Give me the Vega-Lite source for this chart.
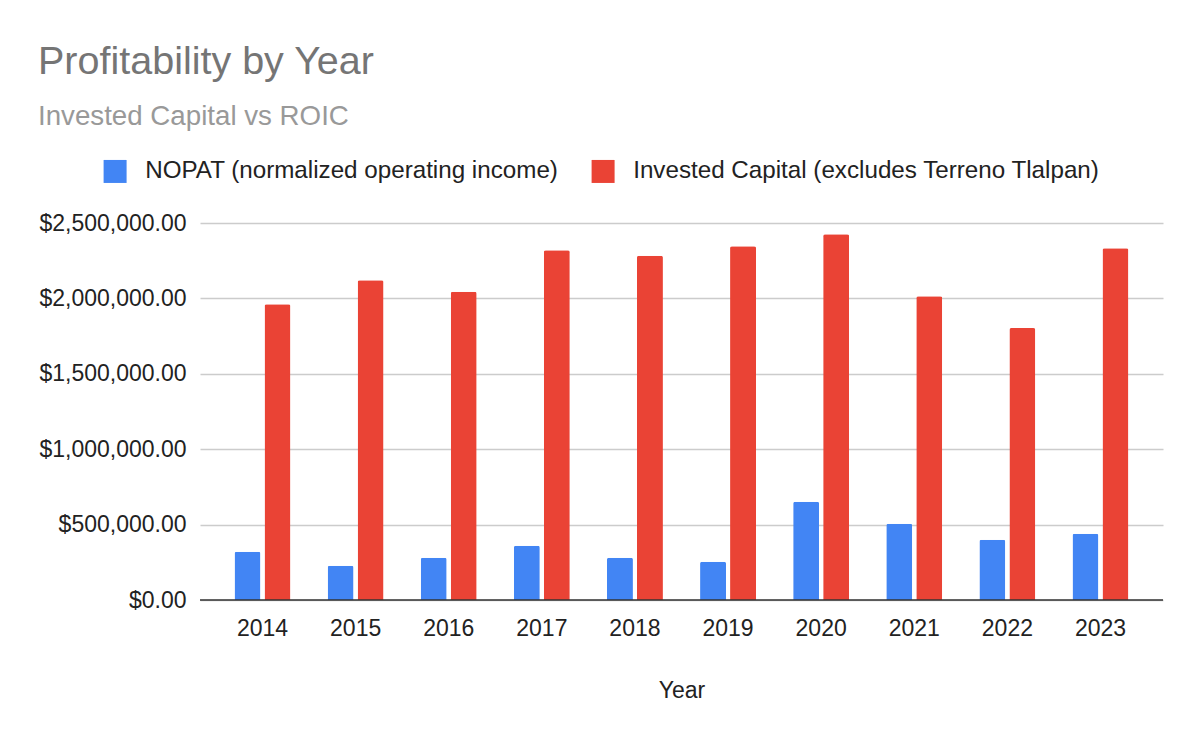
{
  "$schema": "https://vega.github.io/schema/vega-lite/v6.json",
  "autosize": {"type": "none"},
  "padding": {"left": 200, "top": 223, "right": 37, "bottom": 142},
  "width": 963,
  "height": 377,
  "background": "white",
  "view": {"stroke": null},
  "title": {
    "text": "Profitability by Year",
    "subtitle": "Invested Capital vs ROIC",
    "anchor": "start",
    "frame": "group",
    "dx": -162,
    "offset": 27,
    "font": "Liberation Sans",
    "fontSize": 39.5,
    "fontWeight": "normal",
    "color": "#757575",
    "subtitleFont": "Liberation Sans",
    "subtitleFontSize": 27.7,
    "subtitleColor": "#999999",
    "subtitlePadding": 21
  },
  "data": {
    "values": [
      {"Year": "2014", "Series": "NOPAT (normalized operating income)", "Value": 320000},
      {"Year": "2015", "Series": "NOPAT (normalized operating income)", "Value": 227000},
      {"Year": "2016", "Series": "NOPAT (normalized operating income)", "Value": 280000},
      {"Year": "2017", "Series": "NOPAT (normalized operating income)", "Value": 360000},
      {"Year": "2018", "Series": "NOPAT (normalized operating income)", "Value": 280000},
      {"Year": "2019", "Series": "NOPAT (normalized operating income)", "Value": 254000},
      {"Year": "2020", "Series": "NOPAT (normalized operating income)", "Value": 651000},
      {"Year": "2021", "Series": "NOPAT (normalized operating income)", "Value": 505000},
      {"Year": "2022", "Series": "NOPAT (normalized operating income)", "Value": 399000},
      {"Year": "2023", "Series": "NOPAT (normalized operating income)", "Value": 439000},
      {"Year": "2014", "Series": "Invested Capital (excludes Terreno Tlalpan)", "Value": 1962000},
      {"Year": "2015", "Series": "Invested Capital (excludes Terreno Tlalpan)", "Value": 2121000},
      {"Year": "2016", "Series": "Invested Capital (excludes Terreno Tlalpan)", "Value": 2044000},
      {"Year": "2017", "Series": "Invested Capital (excludes Terreno Tlalpan)", "Value": 2320000},
      {"Year": "2018", "Series": "Invested Capital (excludes Terreno Tlalpan)", "Value": 2282000},
      {"Year": "2019", "Series": "Invested Capital (excludes Terreno Tlalpan)", "Value": 2346000},
      {"Year": "2020", "Series": "Invested Capital (excludes Terreno Tlalpan)", "Value": 2426000},
      {"Year": "2021", "Series": "Invested Capital (excludes Terreno Tlalpan)", "Value": 2015000},
      {"Year": "2022", "Series": "Invested Capital (excludes Terreno Tlalpan)", "Value": 1803000},
      {"Year": "2023", "Series": "Invested Capital (excludes Terreno Tlalpan)", "Value": 2333000}
    ]
  },
  "encoding": {
    "x": {
      "field": "Year",
      "type": "nominal",
      "scale": {"paddingInner": 0.3986, "paddingOuter": 0.3708},
      "axis": {
        "labelAngle": 0,
        "labelFont": "Liberation Sans",
        "labelFontSize": 23,
        "labelColor": "#222222",
        "labelPadding": 17,
        "ticks": false,
        "domain": false,
        "title": "Year",
        "titleFont": "Liberation Sans",
        "titleFontSize": 23,
        "titleFontWeight": "normal",
        "titleColor": "#222222",
        "titlePadding": 39
      }
    },
    "xOffset": {
      "field": "Series",
      "type": "nominal",
      "sort": ["NOPAT (normalized operating income)", "Invested Capital (excludes Terreno Tlalpan)"],
      "scale": {"paddingInner": 0.1333, "paddingOuter": 0}
    },
    "y": {
      "field": "Value",
      "type": "quantitative",
      "scale": {"domain": [0, 2500000], "nice": false},
      "axis": {
        "values": [0, 500000, 1000000, 1500000, 2000000, 2500000],
        "format": "$,.2f",
        "title": null,
        "labelFont": "Liberation Sans",
        "labelFontSize": 23,
        "labelColor": "#222222",
        "labelPadding": 14,
        "ticks": false,
        "domain": false,
        "gridColor": "#cccccc",
        "gridWidth": 1.3
      }
    },
    "color": {
      "field": "Series",
      "type": "nominal",
      "sort": ["NOPAT (normalized operating income)", "Invested Capital (excludes Terreno Tlalpan)"],
      "scale": {
        "domain": ["NOPAT (normalized operating income)", "Invested Capital (excludes Terreno Tlalpan)"],
        "range": ["#4285F4", "#EA4335"]
      },
      "legend": {
        "title": null,
        "orient": "none",
        "direction": "horizontal",
        "legendX": -97,
        "legendY": -64,
        "symbolType": "square",
        "symbolSize": 529,
        "symbolStrokeWidth": 0,
        "symbolOpacity": 1,
        "labelFont": "Liberation Sans",
        "labelFontSize": 24.2,
        "labelColor": "#222222",
        "labelOffset": 18,
        "columnPadding": 32,
        "labelLimit": 600
      }
    }
  },
  "layer": [
    {"mark": {"type": "bar", "cornerRadiusTopLeft": 2, "cornerRadiusTopRight": 2}},
    {"data": {"values": [{"v": 0}]}, "mark": {"type": "rule", "color": "#333333", "strokeWidth": 1.5}, "encoding": {"y": {"field": "v", "type": "quantitative"}, "x": null, "xOffset": null, "color": null}}
  ]
}
